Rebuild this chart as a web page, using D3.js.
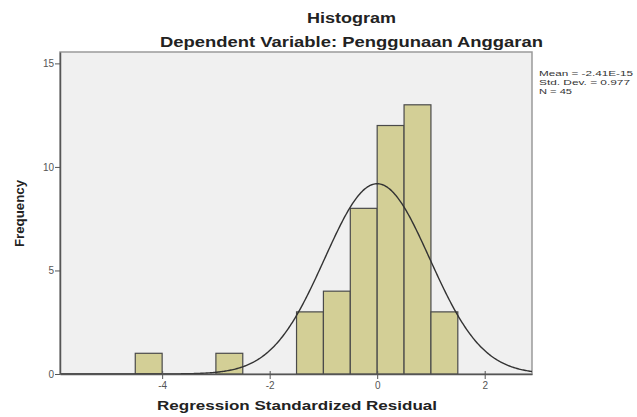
<!DOCTYPE html>
<html>
<head>
<meta charset="utf-8">
<script src="https://cdn.jsdelivr.net/npm/d3@7"></script>
<style>
  body { margin: 0; background: #fff; }
  text { font-family: Arial, "Liberation Sans", sans-serif; }
</style>
</head>
<body>
<svg class="plot" width="637" height="417"></svg>
<script>
// histogram bins (lower edge, upper edge) and counts
var binStart = [-4.5, -3.0, -1.5, -1.0, -0.5, 0.0, 0.5, 1.0];
var binEnd   = [-4.0, -2.5, -1.0, -0.5, 0.0, 0.5, 1.0, 1.5];
var counts   = [1, 1, 3, 4, 8, 12, 13, 3];

var xTicks = [-4, -2, 0, 2];
var yTicks = [0, 5, 10, 15];

var statLabels = ["Mean = -2.41E-15", "Std. Dev. = 0.977", "N = 45"];
var statWidths = [94, 91, 33];
var mean = -2.41e-15, sd = 0.977, n = 45, binWidth = 0.5;

var svg = d3.select(".plot"),
    margin = {top: 52, right: 105, bottom: 43, left: 60},
    width = +svg.attr("width") - margin.left - margin.right,
    height = +svg.attr("height") - margin.top - margin.bottom;

var x = d3.scaleLinear().domain([-5.9, 2.88]).range([0, width]),
    y = d3.scaleLinear().domain([0, 15.55]).range([height, 0]);

var g = svg.append("g")
    .attr("transform", "translate(" + margin.left + "," + margin.top + ")");

// plot background
g.append("rect")
    .attr("width", width).attr("height", height)
    .attr("fill", "#f0f0f0")
    .attr("stroke", "#9a9a9a").attr("stroke-width", 1.5);

g.append("clipPath").attr("id", "clip")
  .append("rect").attr("width", width).attr("height", height);

// bars
g.selectAll(".bar")
    .data(counts)
    .enter().append("rect")
    .attr("class", "bar")
    .attr("x", function(d, i) { return x(binStart[i]); })
    .attr("y", function(d) { return y(d); })
    .attr("width", function(d, i) { return x(binEnd[i]) - x(binStart[i]); })
    .attr("height", function(d) { return y(0) - y(d); })
    .attr("fill", "#d3cf96")
    .attr("stroke", "#4a4a4a").attr("stroke-width", 1.2);

// fitted normal curve
var curvePts = d3.range(x.domain()[0], x.domain()[1] + 0.01, 0.02).map(function(v) {
  var z = (v - mean) / sd;
  return [v, n * binWidth / (sd * Math.sqrt(2 * Math.PI)) * Math.exp(-0.5 * z * z)];
});
g.append("path")
    .datum(curvePts)
    .attr("clip-path", "url(#clip)")
    .attr("fill", "none")
    .attr("stroke", "#333").attr("stroke-width", 1.4)
    .attr("d", d3.line().x(function(d) { return x(d[0]); }).y(function(d) { return y(d[1]); }));

// axes
var fmt = function(d) { return String(d); };  // plain hyphen, like SPSS
var xAxis = g.append("g")
    .attr("transform", "translate(0," + height + ")")
    .call(d3.axisBottom(x).tickValues(xTicks).tickFormat(fmt).tickSize(5).tickSizeOuter(0));
var yAxis = g.append("g")
    .call(d3.axisLeft(y).tickValues(yTicks).tickFormat(fmt).tickSize(5).tickSizeOuter(0));

[xAxis, yAxis].forEach(function(a) {
  a.select(".domain").attr("stroke", "#555").attr("stroke-width", 1.5);
  a.selectAll(".tick line").attr("stroke", "#555");
  a.selectAll(".tick text").attr("fill", "#555").style("font-size", "10px")
    .style("font-family", "Arial, 'Liberation Sans', sans-serif");
});
xAxis.selectAll(".tick line").attr("y1", -3);
yAxis.selectAll(".tick text").attr("x", -6);

// titles (the source image is stretched sideways, so fix text widths)
var titleX = 351.5;
svg.append("text")
    .attr("x", titleX).attr("y", 23)
    .attr("text-anchor", "middle")
    .attr("textLength", 89).attr("lengthAdjust", "spacingAndGlyphs")
    .style("font-size", "14px").style("font-weight", "bold").attr("fill", "#222")
    .text("Histogram");
svg.append("text")
    .attr("x", titleX).attr("y", 47)
    .attr("text-anchor", "middle")
    .attr("textLength", 383).attr("lengthAdjust", "spacingAndGlyphs")
    .style("font-size", "14px").style("font-weight", "bold").attr("fill", "#222")
    .text("Dependent Variable: Penggunaan Anggaran");

svg.append("text")
    .attr("x", 297).attr("y", 410)
    .attr("text-anchor", "middle")
    .attr("textLength", 280).attr("lengthAdjust", "spacingAndGlyphs")
    .style("font-size", "12.5px").style("font-weight", "bold").attr("fill", "#222")
    .text("Regression Standardized Residual");

svg.append("text")
    .attr("transform", "translate(24,213.5) rotate(-90)")
    .attr("text-anchor", "middle")
    .attr("textLength", 67).attr("lengthAdjust", "spacingAndGlyphs")
    .style("font-size", "12px").style("font-weight", "bold").attr("fill", "#222")
    .text("Frequency");

// stats box text
svg.selectAll(".stat")
    .data(statLabels)
    .enter().append("text")
    .attr("class", "stat")
    .attr("x", 539)
    .attr("y", function(d, i) { return 76 + i * 9; })
    .attr("textLength", function(d, i) { return statWidths[i]; })
    .attr("lengthAdjust", "spacingAndGlyphs")
    .style("font-size", "8px").attr("fill", "#333")
    .text(function(d) { return d; });
</script>
</body>
</html>
